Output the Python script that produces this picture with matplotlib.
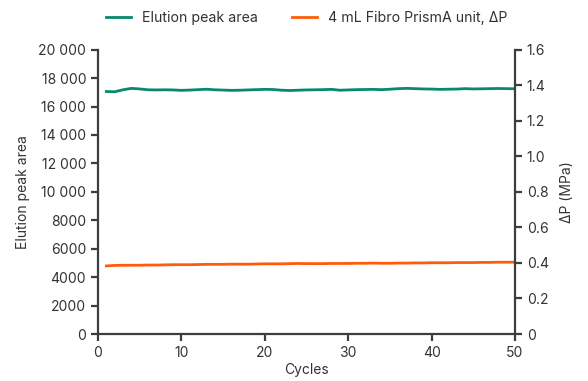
import matplotlib
matplotlib.use("Agg")
import matplotlib.pyplot as plt
from matplotlib.ticker import FuncFormatter, MultipleLocator

cycles = list(range(1, 51))
elution_peak_area = [17060, 17040, 17180, 17280, 17240, 17180, 17170, 17180, 17170, 17140,
                     17160, 17190, 17220, 17180, 17160, 17140, 17150, 17170, 17190, 17210,
                     17200, 17150, 17130, 17150, 17170, 17180, 17190, 17210, 17150, 17170,
                     17190, 17200, 17210, 17190, 17220, 17260, 17280, 17260, 17240, 17230,
                     17210, 17220, 17230, 17260, 17240, 17250, 17260, 17270, 17260, 17250]
delta_p = [0.383, 0.386, 0.387, 0.387, 0.387, 0.388, 0.388, 0.389, 0.390, 0.390,
           0.390, 0.391, 0.392, 0.392, 0.392, 0.393, 0.393, 0.393, 0.394, 0.395,
           0.395, 0.395, 0.396, 0.397, 0.396, 0.396, 0.396, 0.397, 0.397, 0.397,
           0.398, 0.398, 0.399, 0.398, 0.398, 0.399, 0.399, 0.400, 0.400, 0.401,
           0.401, 0.401, 0.402, 0.402, 0.402, 0.403, 0.403, 0.404, 0.404, 0.404]

green = "#08896e"
orange = "#ff5c0a"
axc = "#3d3d3d"
txt = "#333333"

plt.rcParams['font.family'] = ['Inter', 'DejaVu Sans']
plt.rcParams['font.size'] = 10

fig = plt.figure(figsize=(5.88, 3.81), dpi=100)
ax = fig.add_axes([98/588, 1-334/381, (515-98)/588, (334-49.7)/381])
ax2 = ax.twinx()

l1, = ax.plot(cycles, elution_peak_area, color=green, lw=2.0, label="Elution peak area")
l2, = ax2.plot(cycles, delta_p, color=orange, lw=2.0, label="4 mL Fibro PrismA unit, ΔP")

ax.set_xlim(0, 50)
ax.set_ylim(0, 20000)
ax2.set_ylim(0, 1.6)
ax.xaxis.set_major_locator(MultipleLocator(10))
ax.yaxis.set_major_locator(MultipleLocator(2000))
ax2.yaxis.set_major_locator(MultipleLocator(0.2))

def fmt_left(v, pos):
    v = int(round(v))
    if v >= 10000:
        return f"{v:,}".replace(",", " ")
    return str(v)

def fmt_right(v, pos):
    if abs(v) < 1e-9:
        return "0"
    return f"{v:.1f}"

ax.yaxis.set_major_formatter(FuncFormatter(fmt_left))
ax2.yaxis.set_major_formatter(FuncFormatter(fmt_right))

for a in (ax, ax2):
    a.spines['top'].set_visible(False)
    for s in a.spines.values():
        s.set_color(axc)
        s.set_linewidth(1.6)
    a.tick_params(colors=axc, labelcolor=txt, width=1.6, length=5, labelsize=10)
ax2.spines['left'].set_visible(False)
ax2.spines['bottom'].set_visible(False)
ax.spines['right'].set_visible(False)

ax.set_xlabel("Cycles", color=txt, fontsize=10, labelpad=2)
ax.set_ylabel("Elution peak area", color=txt, fontsize=10, labelpad=6)
ax2.set_ylabel("ΔP (MPa)", color=txt, fontsize=10, labelpad=8)

fig.legend(handles=[l1, l2], loc="center", bbox_to_anchor=(306.5/588, 1-18/381), ncol=2,
           frameon=False, fontsize=10.2, handlelength=1.8, columnspacing=2.4, handletextpad=0.75,
           labelcolor=txt)

fig.savefig("out.png", dpi=100)
